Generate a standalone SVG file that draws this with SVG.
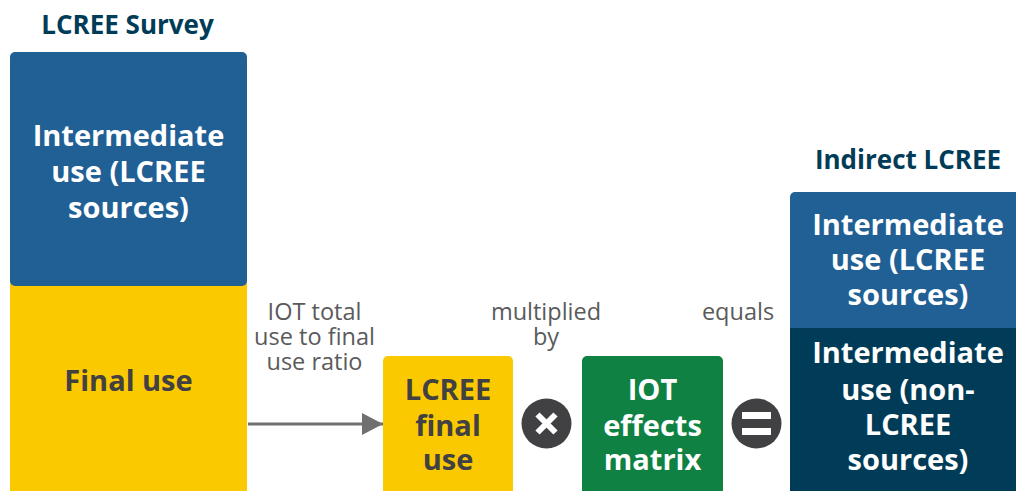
<svg xmlns="http://www.w3.org/2000/svg" width="1016" height="491" viewBox="0 0 1016 491">
<defs>
<style>
text{font-family:"Open Sans","Noto Sans","Liberation Sans",sans-serif;text-anchor:middle}
.h{font-size:26px;font-weight:700;fill:#003c57}
.b{font-size:29px;font-weight:700}
.w{fill:#ffffff}
.d{fill:#414042}
.l{font-size:23.5px;fill:#5a5a5c}
</style>
<marker id="ah" markerWidth="21" markerHeight="22" refX="21" refY="11" orient="auto" markerUnits="userSpaceOnUse">
<path d="M0,0 L21,11 L0,22 Z" fill="#707071"/>
</marker>
</defs>
<rect width="1016" height="491" fill="#ffffff"/>
<text class="h" x="127.5" y="34">LCREE Survey</text>
<text class="h" x="908" y="169">Indirect LCREE</text>
<g id="survey-final">
<rect x="10" y="278" width="237" height="230" rx="5" fill="#fbc900"/>
<text class="b d" x="128.5" y="391">Final use</text>
</g>
<g id="survey-intermediate">
<rect x="10" y="52" width="237" height="234" rx="5" fill="#206095"/>
<text class="b w" x="128.5" y="146">Intermediate</text>
<text class="b w" x="128.5" y="182">use (LCREE</text>
<text class="b w" x="128.5" y="218">sources)</text>
</g>
<g id="connectors">
<line x1="248" y1="424" x2="383" y2="424" stroke="#707071" stroke-width="3" marker-end="url(#ah)"/>
</g>
<g id="ratio-label">
<text class="l" x="314.5" y="320">IOT total</text>
<text class="l" x="314.5" y="345">use to final</text>
<text class="l" x="314.5" y="370">use ratio</text>
</g>
<g id="lcree-final-use">
<rect x="383" y="356" width="130" height="150" rx="5" fill="#fbc900"/>
<text class="b d" x="448" y="400">LCREE</text>
<text class="b d" x="448" y="435.5">final</text>
<text class="b d" x="448" y="470">use</text>
</g>
<g id="multiply">
<text class="l" x="546" y="320">multiplied</text>
<text class="l" x="546" y="345">by</text>
<circle cx="546.5" cy="423.5" r="25" fill="#414042"/>
<path d="M537.5,414.5 L555.5,432.5 M555.5,414.5 L537.5,432.5" stroke="#ffffff" stroke-width="6" stroke-linecap="butt"/>
</g>
<g id="iot-effects-matrix">
<rect x="582" y="356" width="141" height="150" rx="5" fill="#0f8243"/>
<text class="b w" x="652.5" y="400">IOT</text>
<text class="b w" x="652.5" y="436">effects</text>
<text class="b w" x="652.5" y="470">matrix</text>
</g>
<g id="equals">
<text class="l" x="738" y="320">equals</text>
<circle cx="756.5" cy="423.5" r="25" fill="#414042"/>
<rect x="742" y="412" width="29" height="7" fill="#ffffff"/>
<rect x="742" y="428" width="29" height="7" fill="#ffffff"/>
</g>
<g id="indirect-non-lcree">
<rect x="790" y="320" width="240" height="190" rx="5" fill="#003c57"/>
<text class="b w" x="908" y="363">Intermediate</text>
<text class="b w" x="908" y="400">use (non-</text>
<text class="b w" x="908" y="435">LCREE</text>
<text class="b w" x="908" y="470">sources)</text>
</g>
<g id="indirect-lcree-sources">
<path d="M790,328 V197 a5,5 0 0 1 5,-5 H1030 V328 Z" fill="#206095"/>
<text class="b w" x="908" y="235">Intermediate</text>
<text class="b w" x="908" y="270">use (LCREE</text>
<text class="b w" x="908" y="305">sources)</text>
</g>
</svg>
